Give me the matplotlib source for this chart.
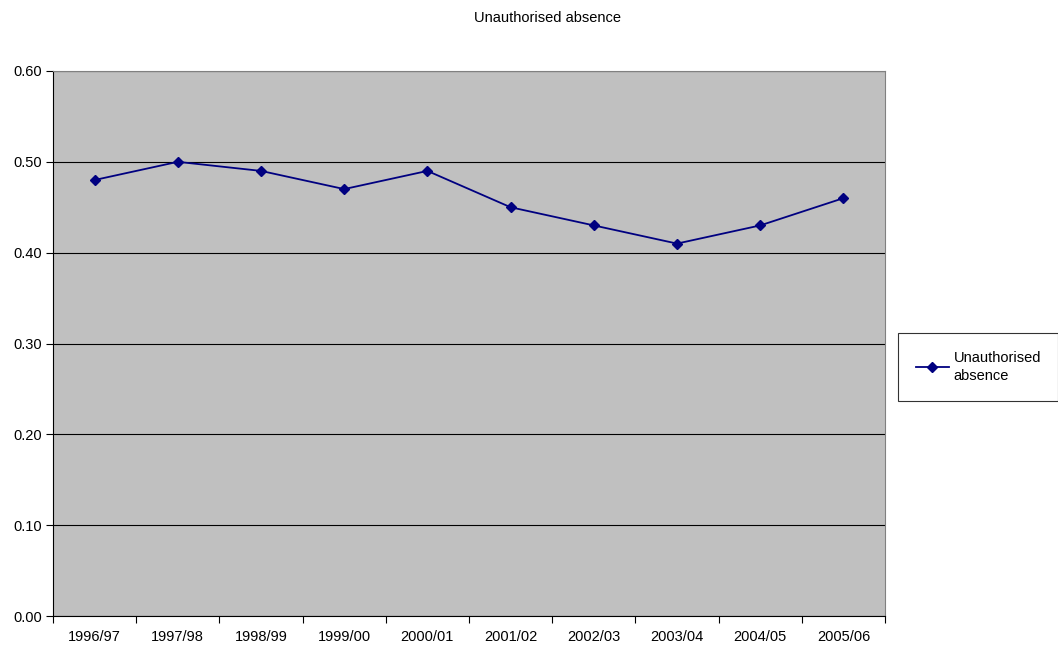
import matplotlib
matplotlib.use("Agg")
import matplotlib.pyplot as plt
from matplotlib.ticker import FixedLocator, MultipleLocator

plt.rcParams['font.family'] = ['Liberation Sans', 'DejaVu Sans']

years = ['1996/97', '1997/98', '1998/99', '1999/00', '2000/01',
         '2001/02', '2002/03', '2003/04', '2004/05', '2005/06']
unauthorised = [0.48, 0.50, 0.49, 0.47, 0.49, 0.45, 0.43, 0.41, 0.43, 0.46]

fig = plt.figure(figsize=(10.58, 6.46), dpi=100)
ax = fig.add_axes([0.0501, 0.0464, 0.7864, 0.8437])
ax.set_facecolor('#C0C0C0')

x = list(range(len(years)))
line, = ax.plot(x, unauthorised, color='#000080', lw=1.3, marker='D',
                markersize=5.5, label='Unauthorised absence')

ax.set_xlim(-0.5, len(years) - 0.5)
ax.set_ylim(0, 0.6)
ax.yaxis.set_major_locator(MultipleLocator(0.1))
ax.yaxis.set_major_formatter(plt.FuncFormatter(lambda v, p: f'{v:.2f}'))
ax.grid(axis='y', color='black', lw=0.8)
ax.set_axisbelow(True)

# category labels centred, tick marks sit between categories
ax.set_xticks(x)
ax.set_xticklabels(years)
ax.xaxis.set_minor_locator(FixedLocator([i - 0.5 for i in range(len(years) + 1)]))
ax.tick_params(axis='x', which='major', length=0, pad=10, labelsize=10.5)
ax.tick_params(axis='x', which='minor', length=5, width=0.8, direction='out')
ax.tick_params(axis='y', length=5, width=0.8, direction='out', labelsize=10.5, pad=3)

for s in ['top', 'right']:
    ax.spines[s].set_color('#808080')
    ax.spines[s].set_linewidth(0.8)
for s in ['left', 'bottom']:
    ax.spines[s].set_color('black')
    ax.spines[s].set_linewidth(0.8)

fig.text(547 / 1058, 1 - 18 / 646, 'Unauthorised absence', ha='center',
         va='center', fontsize=10.5)

leg = fig.legend([line], ['Unauthorised\nabsence'], loc='center left',
                 bbox_to_anchor=(898 / 1058, 1 - 367 / 646), fontsize=10.5,
                 frameon=True, fancybox=False, edgecolor='black',
                 handlelength=2.3, borderpad=1.2, handletextpad=0.3,
                 borderaxespad=0)
leg.get_frame().set_linewidth(0.8)
leg.get_texts()[0].set_linespacing(1.45)

fig.savefig('out.png', dpi=100)
